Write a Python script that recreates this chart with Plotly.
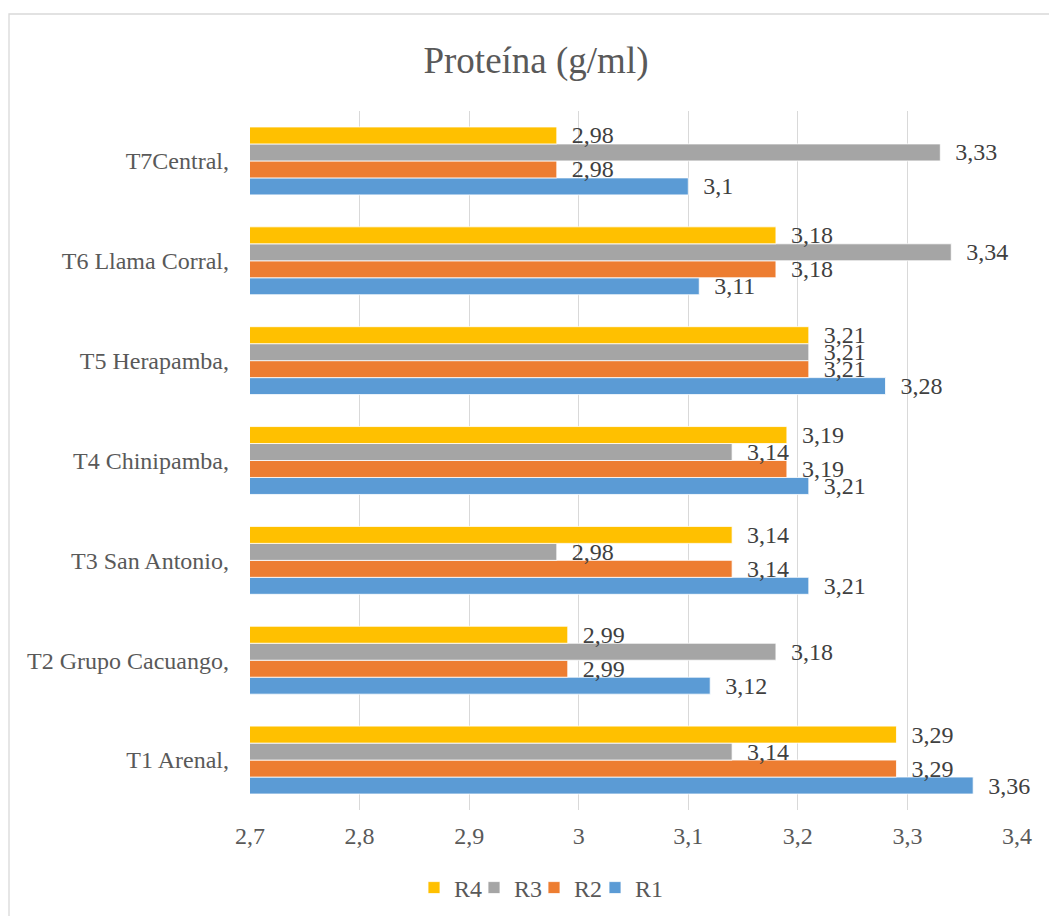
import plotly.graph_objects as go

categories = ["T1 Arenal,", "T2 Grupo Cacuango,", "T3 San Antonio,", "T4 Chinipamba,",
              "T5 Herapamba,", "T6 Llama Corral,", "T7Central,"]
r1 = [3.36, 3.12, 3.21, 3.21, 3.28, 3.11, 3.10]
r2 = [3.29, 2.99, 3.14, 3.19, 3.21, 3.18, 2.98]
r3 = [3.14, 3.18, 2.98, 3.14, 3.21, 3.34, 3.33]
r4 = [3.29, 2.99, 3.14, 3.19, 3.21, 3.18, 2.98]
series = [("R1", r1, "#5B9BD5", "legend4"), ("R2", r2, "#ED7D31", "legend3"),
          ("R3", r3, "#A5A5A5", "legend2"), ("R4", r4, "#FFC000", "legend")]
tick_vals = [2.7, 2.8, 2.9, 3.0, 3.1, 3.2, 3.3, 3.4]
tick_text = ["2,7", "2,8", "2,9", "3", "3,1", "3,2", "3,3", "3,4"]

FONT = "Liberation Serif, Times New Roman, serif"


def fmt(v):
    s = f"{v:.2f}".rstrip("0").rstrip(".")
    return s.replace(".", ",")


fig = go.Figure()
for name, vals, color, leg in series:
    fig.add_trace(go.Bar(
        y=categories, x=vals, name=name, orientation="h", legend=leg,
        marker=dict(color=color, line=dict(color="white", width=0.8)),
        text=["\u00a0\u00a0" + fmt(v) for v in vals],
        textposition="outside", constraintext="none", cliponaxis=False,
        textfont=dict(family=FONT, size=24, color="#404040"),
        hoverinfo="x+y",
    ))

W, H = 1049, 916
L, R, T, B = 250, 32, 111, 106
pw, ph = W - L - R, H - T - B


def px(x):
    return (x - L) / pw


def py(y):
    return (H - B - y) / ph


legend_common = dict(orientation="h", yanchor="middle", y=py(888), xanchor="left",
                     font=dict(family=FONT, size=24, color="#595959"),
                     itemwidth=30, tracegroupgap=0, bgcolor="rgba(0,0,0,0)")

fig.update_layout(
    width=W, height=H,
    margin=dict(l=L, r=R, t=T, b=B, autoexpand=False),
    paper_bgcolor="white", plot_bgcolor="white",
    barmode="group", bargap=0.32, bargroupgap=0,
    title=dict(text="Proteína (g/ml)", x=px(536), xref="paper", xanchor="center",
               y=1 - 60 / H, yanchor="middle",
               font=dict(family=FONT, size=37, color="#595959")),
    font=dict(family=FONT, size=24, color="#595959"),
    xaxis=dict(range=[2.7, 3.4], tickvals=tick_vals, ticktext=tick_text,
               showgrid=True, gridcolor="#D9D9D9", gridwidth=1.3, zeroline=False,
               showline=False, ticks="", ticklabelstandoff=9, automargin=False,
               tickfont=dict(family=FONT, size=24, color="#595959")),
    yaxis=dict(showgrid=False, zeroline=False, showline=False, ticks="", automargin=False,
               tickfont=dict(family=FONT, size=24, color="#595959"), ticklabelstandoff=20),
    legend=dict(x=px(414), **legend_common),
    legend2=dict(x=px(474), **legend_common),
    legend3=dict(x=px(534), **legend_common),
    legend4=dict(x=px(595), **legend_common),
    showlegend=True,
    shapes=[dict(type="rect", xref="paper", yref="paper",
                 x0=px(9), x1=px(1060), y0=py(930), y1=py(14),
                 line=dict(color="#D9D9D9", width=1.3), fillcolor="rgba(0,0,0,0)", layer="below")],
)

fig.write_html("out.html", config={"displayModeBar": False},
               post_script="document.body.style.margin='0';")
